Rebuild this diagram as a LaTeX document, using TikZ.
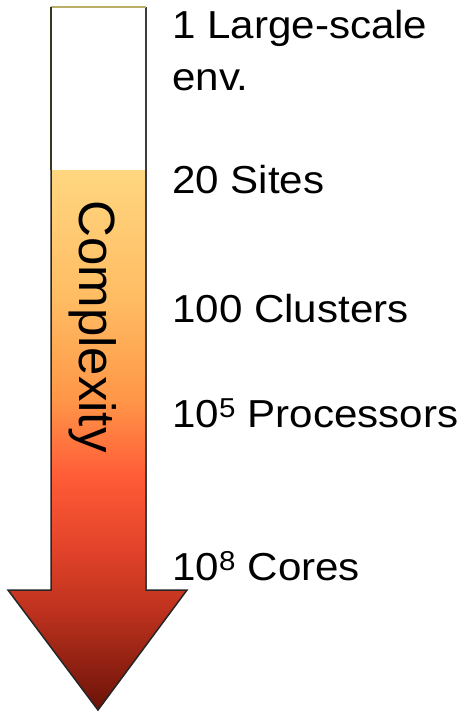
\documentclass[tikz,border=0pt]{standalone}
\usepackage{fontspec}
\setmainfont{Liberation Sans}
\definecolor{cA}{RGB}{255,214,128}
\definecolor{cB}{RGB}{255,188,98}
\definecolor{cC}{RGB}{255,150,72}
\definecolor{cD}{RGB}{255,92,55}
\definecolor{cE}{RGB}{228,68,42}
\definecolor{cF}{RGB}{190,50,30}
\definecolor{cG}{RGB}{105,18,8}
\definecolor{olive}{RGB}{185,175,105}
\definecolor{rgray}{RGB}{60,60,60}
\begin{document}
\begin{tikzpicture}[x=1pt,y=1pt,
  lbl/.style={anchor=base west,inner sep=0pt,xscale=1.08,font=\fontsize{39}{47}\selectfont},
  seg/.style={draw=none}]
\useasboundingbox[fill=white] (0,0) rectangle (460,-712);
% arrow path
\coordinate (tl) at (51,-7);
\coordinate (tr) at (146,-7);
\coordinate (sr) at (146,-590);
\coordinate (hr) at (187,-590);
\coordinate (tip) at (98,-710);
\coordinate (hl) at (8,-590);
\coordinate (sl) at (51,-590);
\begin{scope}
  \clip (tl) -- (tr) -- (sr) -- (hr) -- (tip) -- (hl) -- (sl) -- cycle;
  \fill[white] (0,-7) rectangle (200,-170);
  \shade[seg,top color=cA,bottom color=cB] (0,-170) rectangle (200,-300.5);
  \shade[seg,top color=cB,bottom color=cC] (0,-300) rectangle (200,-400.5);
  \shade[seg,top color=cC,bottom color=cD] (0,-400) rectangle (200,-475.5);
  \shade[seg,top color=cD,bottom color=cE] (0,-475) rectangle (200,-545.5);
  \shade[seg,top color=cE,bottom color=cF] (0,-545) rectangle (200,-610.5);
  \shade[seg,top color=cF,bottom color=cG] (0,-610) rectangle (200,-712);
\end{scope}
\draw[black!85,line width=1.5pt,line join=miter] (tr) -- (sr) -- (hr) -- (tip) -- (hl) -- (sl) -- (tl);
\draw[rgray,line width=1.5pt] (tr) -- (sr);
\draw[olive,line width=2.5pt] (tl) -- (tr);
\draw[black!70!olive,line width=1.5pt] (tl) -- (51,-170);
% labels
\node[lbl] (l1a) at (172,-38) {1 Large-scale};
\node[lbl] (l1b) at (172,-90) {env.};
\node[lbl] (l2) at (172,-193) {20 Sites};
\node[lbl] (l3) at (172,-322) {100 Clusters};
\node[lbl] (l4) at (172,-427) {10\textsuperscript{5} Processors};
\node[lbl] (l5) at (172,-580) {10\textsuperscript{8} Cores};
\node[rotate=-90,inner sep=0pt,font=\fontsize{51}{60}\selectfont] (cx) at (93,-326.5) {Complexity};
\end{tikzpicture}
\end{document}
